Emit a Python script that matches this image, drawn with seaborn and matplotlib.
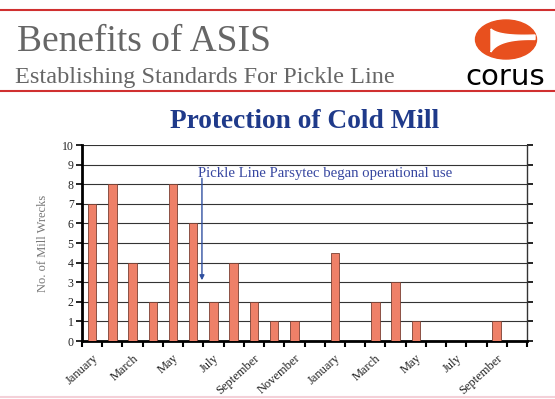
import matplotlib
matplotlib.use("Agg")
import matplotlib.pyplot as plt
from matplotlib.patches import Ellipse, Polygon
from matplotlib.lines import Line2D
import seaborn as sns
import pandas as pd
import numpy as np

months = ["January", "February", "March", "April", "May", "June", "July",
          "August", "September", "October", "November", "December",
          "January", "February", "March", "April", "May", "June", "July",
          "August", "September", "October"]
wrecks = [7, 8, 4, 2, 8, 6, 2, 4, 2, 1, 1, 0,
          4.5, 0, 2, 3, 1, 0, 0, 0, 1, 0]
period = [f"{i:02d}" for i in range(len(months))]

df = pd.DataFrame({"period": period, "month": months, "wrecks": wrecks})

sns.set_theme(style="white")
plt.rcParams['font.family'] = ['Liberation Serif', 'DejaVu Serif']

fig = plt.figure(figsize=(5.55, 3.99), dpi=100)
fig.patch.set_facecolor("white")

ax = fig.add_axes([82/555, 1-341/399, (527-82)/555, (341-145)/399])
sns.barplot(data=df, x="period", y="wrecks", order=period, ax=ax,
            color="#EE8068", width=0.42, edgecolor="#7a4033", linewidth=0.6,
            saturation=1, zorder=3)

ax.set_ylim(0, 10)
ax.set_xlim(-0.5, len(months) - 0.5)
ax.set_yticks(range(0, 11))
ax.set_yticklabels([str(i) for i in range(0, 11)], fontsize=8.5, color="#222222")
ax.yaxis.grid(True, color="#333333", linewidth=0.8, zorder=0)
ax.set_axisbelow(True)

ax.set_xticks(range(0, len(months), 2))
ax.set_xticklabels([months[i] for i in range(0, len(months), 2)],
                   rotation=42, ha="right", va="top", rotation_mode="anchor",
                   fontsize=9, color="#222222")
ax.tick_params(axis="x", which="major", length=0, pad=8)
ax.set_xticks(np.arange(-0.5, len(months), 1), minor=True)
ax.tick_params(axis="x", which="minor", length=4, width=1.5, direction="out",
               color="black", bottom=True)
ax.tick_params(axis="y", which="major", length=4, width=1.2, direction="out",
               color="black", left=True, right=True, pad=2)

for s in ["left", "bottom"]:
    ax.spines[s].set_color("black")
    ax.spines[s].set_linewidth(2.0)
ax.spines["right"].set_color("#333333")
ax.spines["right"].set_linewidth(1.0)
ax.spines["top"].set_visible(False)

ax.set_xlabel("")
ax.set_ylabel("No. of Mill Wrecks", fontsize=9, color="#777777", labelpad=9)

ax.annotate("", xy=(5.43, 3.1), xytext=(5.43, 8.3),
            arrowprops=dict(arrowstyle="-|>", color="#3050A0", lw=1.0,
                            mutation_scale=7, shrinkA=0, shrinkB=0), zorder=5)
ax.text(5.22, 8.55, "Pickle Line Parsytec began operational use",
        fontsize=10.6, color="#3646A0", va="center", ha="left", zorder=6)

# header
fig.add_artist(Line2D([0, 1], [1-10/399, 1-10/399], color="#D03030", lw=1.5))
fig.add_artist(Line2D([0, 1], [1-91/399, 1-91/399], color="#D03030", lw=1.5))
fig.text(17/555, 1-51/399, "Benefits of ASIS", fontsize=27, color="#666666",
         ha="left", va="baseline")
fig.text(15/555, 1-83/399, "Establishing Standards For Pickle Line", fontsize=17.5,
         color="#666666", ha="left", va="baseline")
fig.text(305/555, 1-122/399, "Protection of Cold Mill", fontsize=19.7,
         color="#1F3A8A", fontweight="bold", ha="center", va="center")

# logo
lax = fig.add_axes([0, 0, 1, 1], zorder=-1)
lax.set_xlim(0, 555)
lax.set_ylim(399, 0)
lax.axis("off")
lax.add_patch(Ellipse((506, 39.5), 61, 39, color="#E8501E"))

def bez(p0, c, p1, n=20):
    t = np.linspace(0, 1, n)[:, None]
    p0, c, p1 = map(np.array, (p0, c, p1))
    return (1-t)**2*p0 + 2*(1-t)*t*c + t**2*p1

top = bez((491, 29), (499, 36.5), (535, 35))
bot = bez((535, 39.5), (499, 38.5), (491, 52))
lax.add_patch(Polygon(np.vstack([top, bot]), closed=True, color="white"))
lax.text(505, 77, "corus", fontsize=21, family="DejaVu Sans", color="black",
         ha="center", va="center")
lax.add_line(Line2D([0, 555], [397, 397], color="#F4D0D8", lw=1.5))

fig.savefig("out.png", dpi=100, facecolor="white")
